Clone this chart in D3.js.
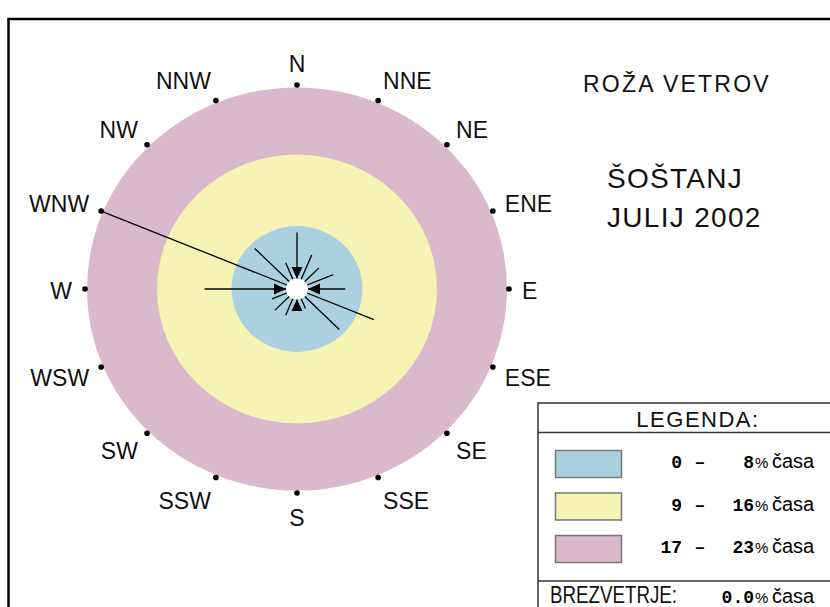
<!DOCTYPE html>
<html lang="sl">
<head>
    <meta charset="UTF-8">
    <title>Roža vetrov</title>
    <script src="https://d3js.org/d3.v7.min.js"></script>
    <style>
        body { margin: 0; background: #fff; }
    </style>
</head>
<body>
    <svg width="830" height="607"></svg>

    <script>
        // wind directions and the share of time (%) for each one
        const directions = ["N", "NNE", "NE", "ENE", "E", "ESE", "SE", "SSE",
                            "S", "SSW", "SW", "WSW", "W", "WNW", "NW", "NNW"];
        const frequency = [7.2, 4.7, 3.8, 4.8, 5.9, 9.9, 7.3, 2.7,
                           2.8, 3.6, 3.8, 3.3, 10.9, 23.0, 7.3, 3.6];

        // legend classes
        const classLow = [0, 9, 17];
        const classHigh = [8, 16, 23];
        const classColors = ["#abd0e0", "#f5f4b4", "#dab9cd"];

        const calmShare = "0.0";
        const titleLines = ["ROŽA VETROV", "ŠOŠTANJ", "JULIJ 2002"];

        const svg = d3.select("svg");
        const cx = 297, cy = 289;
        const ky = 0.96;   // the rose is a little flatter than round

        const r = d3.scaleLinear()
                    .domain([0, ...classHigh])
                    .range([0, 65.5, 140, 210]);

        const angle = d3.scaleLinear()
                        .domain([0, directions.length])
                        .range([0, 2 * Math.PI]);

        const px = (i, rad) => cx + rad * Math.sin(angle(i));
        const py = (i, rad) => cy - rad * ky * Math.cos(angle(i));

        const sans = "'Liberation Sans', Arial, sans-serif";
        const mono = "'Liberation Mono', 'Courier New', monospace";

        // frame
        svg.append("rect")
           .attr("x", 8.5).attr("y", 19)
           .attr("width", 900).attr("height", 700)
           .attr("fill", "none")
           .attr("stroke", "#000")
           .attr("stroke-width", 2.5);

        // rings, biggest first
        svg.selectAll("ellipse.ring")
           .data(classHigh.slice().reverse())
           .enter()
           .append("ellipse")
           .attr("class", "ring")
           .attr("cx", cx).attr("cy", cy)
           .attr("rx", d => r(d))
           .attr("ry", d => r(d) * ky)
           .attr("fill", (d, i) => classColors[classColors.length - 1 - i]);

        // rays
        svg.selectAll("line.ray")
           .data(frequency)
           .enter()
           .append("line")
           .attr("class", "ray")
           .attr("x1", (d, i) => px(i, 0))
           .attr("y1", (d, i) => py(i, 0))
           .attr("x2", (d, i) => px(i, r(d)))
           .attr("y2", (d, i) => py(i, r(d)))
           .attr("stroke", "#000")
           .attr("stroke-width", 1.3);

        // white calm circle
        svg.append("ellipse")
           .attr("cx", cx).attr("cy", cy)
           .attr("rx", 11).attr("ry", 11 * ky)
           .attr("fill", "#fff");

        // arrowheads on the main directions
        const arrowDirs = d3.range(0, directions.length, 4);
        svg.selectAll("path.arrow")
           .data(arrowDirs)
           .enter()
           .append("path")
           .attr("class", "arrow")
           .attr("d", i => {
               const a = angle(i);
               const nx = Math.cos(a), ny = Math.sin(a);
               const tx = px(i, 11), ty = py(i, 11);
               const bx = px(i, 23), by = py(i, 23);
               return `M${tx},${ty}L${bx + nx * 5.5},${by + ny * 5.5}L${bx - nx * 5.5},${by - ny * 5.5}Z`;
           })
           .attr("fill", "#000");

        // direction dots
        svg.selectAll("circle.dot")
           .data(directions)
           .enter()
           .append("circle")
           .attr("class", "dot")
           .attr("cx", (d, i) => px(i, 212))
           .attr("cy", (d, i) => cy - 204 * Math.cos(angle(i)))
           .attr("r", 2.8)
           .attr("fill", "#000");

        // direction labels
        svg.selectAll("text.dir")
           .data(directions)
           .enter()
           .append("text")
           .attr("class", "dir")
           .attr("x", (d, i) => cx + 225 * Math.sin(angle(i)))
           .attr("y", (d, i) => cy + 1.5 - 227 * Math.cos(angle(i)))
           .attr("dy", "0.36em")
           .attr("text-anchor", (d, i) => {
               const s = Math.sin(angle(i));
               return s > 0.05 ? "start" : (s < -0.05 ? "end" : "middle");
           })
           .style("font-family", sans)
           .style("font-size", "23px")
           .attr("fill", "#111")
           .text(d => d);

        // title
        svg.append("text")
           .attr("x", 583).attr("y", 92)
           .style("font-family", sans)
           .style("font-size", "23px")
           .style("letter-spacing", "2.2px")
           .attr("fill", "#111")
           .text(titleLines[0]);

        svg.selectAll("text.place")
           .data(titleLines.slice(1))
           .enter()
           .append("text")
           .attr("class", "place")
           .attr("x", 607)
           .attr("y", (d, i) => 188 + i * 39)
           .style("font-family", sans)
           .style("font-size", "28px")
           .style("letter-spacing", "1.3px")
           .attr("fill", "#111")
           .text(d => d);

        // legend box
        const lg = svg.append("g");
        lg.append("rect")
          .attr("x", 538).attr("y", 403)
          .attr("width", 400).attr("height", 300)
          .attr("fill", "#fff")
          .attr("stroke", "#333")
          .attr("stroke-width", 1.5);
        lg.append("line")
          .attr("x1", 538).attr("x2", 900)
          .attr("y1", 432.5).attr("y2", 432.5)
          .attr("stroke", "#333").attr("stroke-width", 1.5);
        lg.append("line")
          .attr("x1", 538).attr("x2", 900)
          .attr("y1", 581).attr("y2", 581)
          .attr("stroke", "#333").attr("stroke-width", 1.5);

        lg.append("text")
          .attr("x", 698).attr("y", 427)
          .attr("text-anchor", "middle")
          .style("font-family", sans)
          .style("font-size", "22px")
          .style("letter-spacing", "1.5px")
          .attr("fill", "#111")
          .text("LEGENDA:");

        const rowY = i => 468 + i * 42.5;

        lg.selectAll("rect.swatch")
          .data(classColors)
          .enter()
          .append("rect")
          .attr("class", "swatch")
          .attr("x", 555.5).attr("y", (d, i) => rowY(i) - 17.5)
          .attr("width", 66).attr("height", 27)
          .attr("fill", d => d)
          .attr("stroke", "#777")
          .attr("stroke-width", 1.5);

        const rows = lg.selectAll("g.row")
          .data(classLow)
          .enter()
          .append("g")
          .attr("class", "row");

        rows.append("text")
            .attr("x", 682).attr("y", (d, i) => rowY(i))
            .attr("text-anchor", "end")
            .style("font-family", mono).style("font-weight", "bold").style("font-size", "18px")
            .text(d => d);
        rows.append("text")
            .attr("x", 700).attr("y", (d, i) => rowY(i))
            .attr("text-anchor", "middle")
            .style("font-family", mono).style("font-weight", "bold").style("font-size", "18px")
            .text("–");
        rows.append("text")
            .attr("x", 754).attr("y", (d, i) => rowY(i))
            .attr("text-anchor", "end")
            .style("font-family", mono).style("font-weight", "bold").style("font-size", "18px")
            .text((d, i) => classHigh[i]);
        rows.append("text")
            .attr("x", 755).attr("y", (d, i) => rowY(i))
            .style("font-family", sans).style("font-size", "15px")
            .text("%");
        rows.append("text")
            .attr("x", 772).attr("y", (d, i) => rowY(i))
            .style("font-family", sans).style("font-size", "20px")
            .text("časa");

        // calm row
        lg.append("text")
          .attr("x", 550).attr("y", 603)
          .attr("textLength", 127)
          .attr("lengthAdjust", "spacingAndGlyphs")
          .style("font-family", sans)
          .style("font-size", "23px")
          .attr("fill", "#111")
          .text("BREZVETRJE:");
        lg.append("text")
          .attr("x", 754).attr("y", 603)
          .attr("text-anchor", "end")
          .style("font-family", mono).style("font-weight", "bold").style("font-size", "18px")
          .text(calmShare);
        lg.append("text")
          .attr("x", 755).attr("y", 603)
          .style("font-family", sans).style("font-size", "15px")
          .text("%");
        lg.append("text")
          .attr("x", 772).attr("y", 603)
          .style("font-family", sans).style("font-size", "20px")
          .text("časa");
    </script>
</body>
</html>
